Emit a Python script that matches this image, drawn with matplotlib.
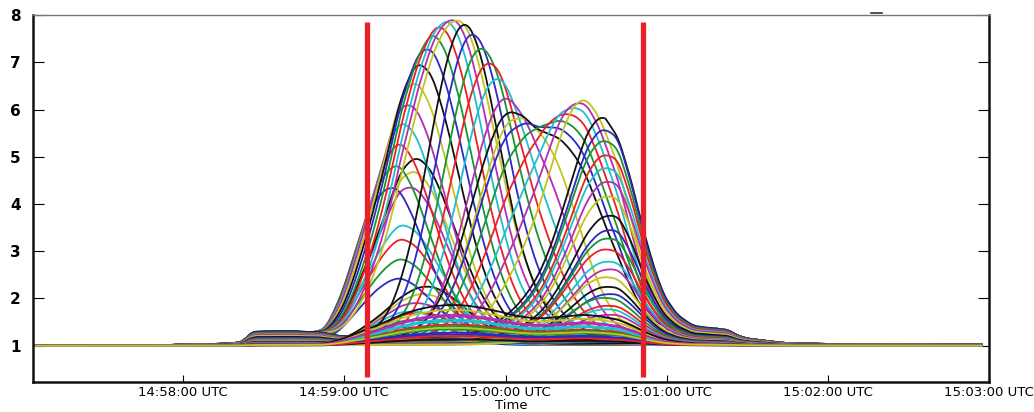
import numpy as np
import matplotlib.pyplot as plt
import matplotlib.dates as mdates
from matplotlib.lines import Line2D
from datetime import datetime, timedelta

# --- data (seconds after 14:57:00 UTC) ---
# outer envelope of all traces
ENV_T = [4, 50, 75, 82, 84, 86, 100, 107, 110, 113, 116.5, 119.5, 123, 126, 128.6,
         134.5, 140.8, 147, 153, 158, 162, 166, 171, 178, 184.5, 189, 192, 196,
         200.5, 206.5, 210, 215, 222, 227, 231.5, 235.5, 239, 244, 250, 257, 263,
         266, 270, 283, 295, 320, 358]
ENV_V = [1.0, 1.01, 1.04, 1.07, 1.2, 1.3, 1.31, 1.29, 1.3, 1.4, 1.8, 2.2, 2.8, 3.35, 3.8,
         4.9, 6.2, 7.1, 7.68, 7.88, 7.9, 7.78, 7.42, 6.75, 6.0, 5.72, 5.62, 5.7,
         5.92, 6.15, 6.22, 6.0, 5.4, 4.45, 3.4, 2.65, 2.1, 1.68, 1.42, 1.37, 1.33,
         1.22, 1.15, 1.06, 1.04, 1.03, 1.02]
# low pedestal (small step before the rise, shoulder after the fall)
PED_T = [4, 50, 75, 82, 84, 86, 100, 107, 110, 118, 135, 200, 235, 245, 257, 263,
         266, 270, 283, 295, 320, 358]
PED_V = [1.0, 1.01, 1.04, 1.07, 1.2, 1.29, 1.3, 1.28, 1.29, 1.2, 1.15, 1.15, 1.3,
         1.37, 1.37, 1.33, 1.22, 1.15, 1.06, 1.04, 1.03, 1.02]

# first hump, weaker traces: turn-over time and relative level
B1_C = [134, 138, 142, 136, 140, 144, 146, 128, 130, 131, 132, 136, 138, 140]
B1_A = [0.08, 0.1, 0.12, 0.14, 0.16, 0.18, 0.2, 0.35, 0.42, 0.5, 0.55, 0.65, 0.68, 0.7]

# first hump, full traces: rising side / falling side
A1_C = [124, 127, 130, 133, 136, 139.5, 143, 146.5, 150, 153.5, 157, 160, 163]
A1B_C = [166, 170, 174, 177.5, 181, 185, 189]

# second hump, full traces
A2_C = [188, 191, 194, 197.5, 201, 204.5, 208]

# second hump, weaker traces
B2_C = [222, 223, 223, 224, 224, 225, 225, 226, 226, 225, 224, 225, 226, 224,
        225, 226, 223, 225, 224, 226, 225]
B2_A = [1.03, 0.99, 0.94, 0.89, 0.83, 0.78, 0.71, 0.63, 0.56, 0.51, 0.45, 0.4,
        0.37, 0.32, 0.28, 0.25, 0.22, 0.19, 0.17, 0.15, 0.13]

# background traces
C_A = [0.02, 0.035, 0.05, 0.065, 0.08, 0.095, 0.11, 0.125, 0.04, 0.06, 0.03,
       0.075, 0.09, 0.055]

MARKERS = [128.6, 231.1]
YTICKS = [1, 2, 3, 4, 5, 6, 7, 8]

COLORS = ['#2a2ac4', '#1b9433', '#ec1f26', '#1fbfcf', '#b22fb2', '#c4c41e', '#111111']

t = np.arange(4.2, 357.5, 0.5)
k = np.ones(7) / 7
env = np.convolve(np.pad(np.interp(t, ENV_T, ENV_V), 3, mode='edge'), k, mode='valid')
ped = np.convolve(np.pad(np.interp(t, PED_T, PED_V), 3, mode='edge'), k, mode='valid')
ped = np.minimum(ped, env)


def trace(c, a, sl, sr):
    kern = np.where(t < c, np.exp(-0.5 * ((t - c) / sl) ** 2),
                    np.exp(-0.5 * ((t - c) / sr) ** 2))
    return 1 + a * ((ped - 1) + (env - ped) * kern)


traces = []
for c, a in zip(B1_C, B1_A):
    traces.append(trace(c, a, 25, 18))
for c in A1_C:
    traces.append(trace(c, 1.0, 25, 17))
for c in A1B_C:
    traces.append(trace(c, 1.0, 15, 15))
for c in A2_C:
    traces.append(trace(c, 1.0, 16, 25))
for c, a in zip(B2_C, B2_A):
    traces.append(np.minimum(trace(c, a, 19, 40), env))
for a in C_A:
    traces.append(1 + a * (env - 1))

base = datetime(2000, 1, 1, 14, 57, 0)
x = mdates.date2num(base) + t / 86400.0

fig = plt.figure(figsize=(10.34, 4.12), dpi=100)
ax = fig.add_axes([0.0322, 0.0735, 0.9243, 0.890])

for i, y in enumerate(traces):
    ax.plot(x, y, color=COLORS[i % 7], lw=1.3)

mx = [mdates.date2num(base) + m / 86400.0 for m in MARKERS]
ax.vlines(mx, 0.33, 7.86, color='#e8202a', lw=3.8, zorder=5)

ax.set_xlim(mdates.date2num(base + timedelta(seconds=4.2)),
            mdates.date2num(base + timedelta(seconds=360)))
ax.set_ylim(0.238, 8)
ax.xaxis.set_major_locator(mdates.MinuteLocator())
ax.xaxis.set_major_formatter(mdates.DateFormatter('%H:%M:%S UTC'))
ax.set_yticks(YTICKS)
ax.set_yticklabels([str(v) for v in YTICKS], fontweight='bold')
ax.tick_params(axis='x', direction='in', length=5, labelsize=9.5, pad=3)
ax.tick_params(axis='y', direction='in', length=8, left=True, right=True,
               labelsize=11, pad=9)
ax.set_xlabel('Time', fontsize=9.5, labelpad=0)

for side in ['left', 'right', 'bottom']:
    ax.spines[side].set_linewidth(1.8)
    ax.spines[side].set_color('#111111')
ax.spines['top'].set_linewidth(1.0)
ax.spines['top'].set_color('#777777')

fig.add_artist(Line2D([871 / 1034, 882 / 1034], [1 - 13 / 412] * 2,
                      color='#333333', lw=1.2))

fig.savefig('out.png', dpi=100)
